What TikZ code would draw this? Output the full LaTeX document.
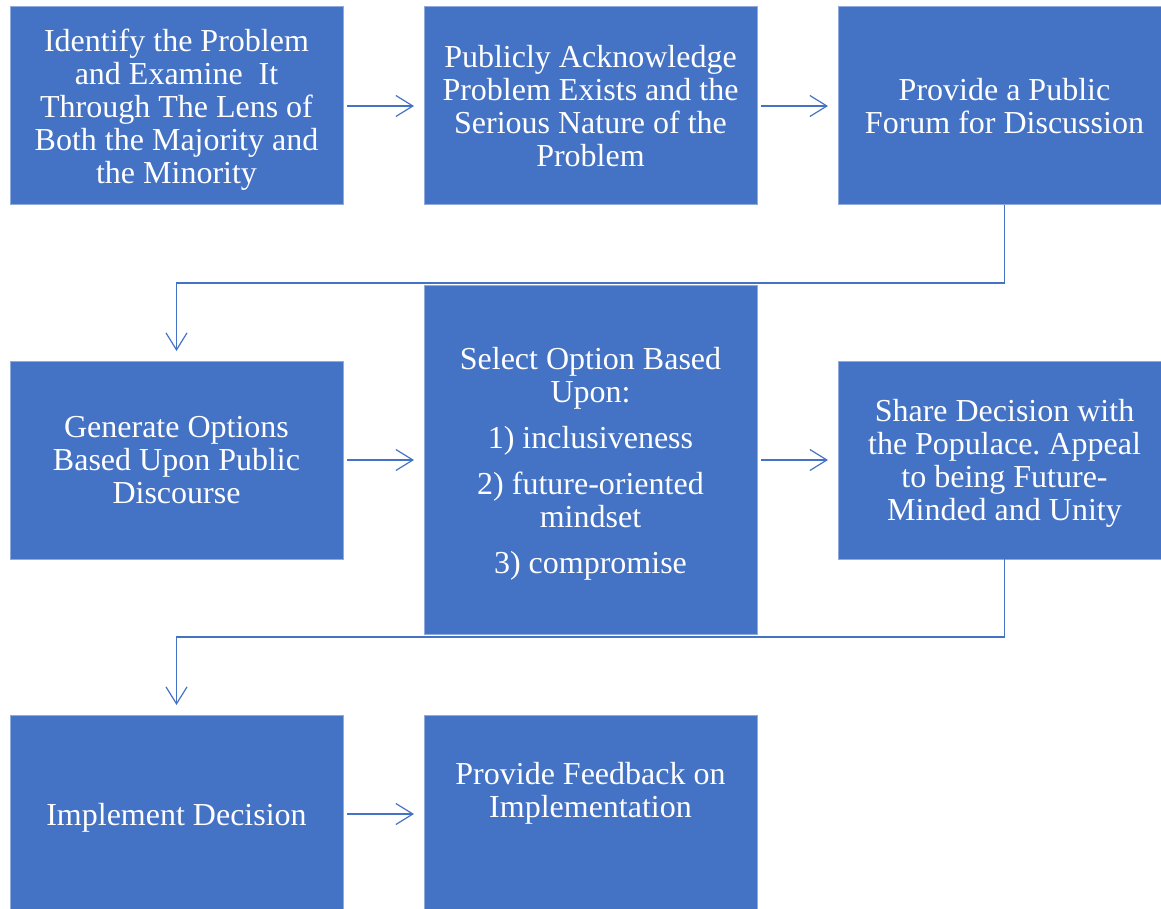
\documentclass[tikz,border=0pt]{standalone}
\usepackage{fontspec}
\setmainfont{Liberation Serif}
\usetikzlibrary{positioning,calc,arrows.meta}
\frenchspacing

\definecolor{boxblue}{RGB}{68,114,196}
\definecolor{boxedge}{RGB}{143,170,220}

\begin{document}
\begin{tikzpicture}[step box/.style={rectangle,draw=boxedge,line width=1pt,fill=boxblue,text=white,
        minimum width=333pt,minimum height=198pt,outer sep=0pt,inner sep=4pt,align=center,
        font=\fontsize{32}{33}\selectfont,text depth=0pt},
        flow/.style={draw=boxblue,line width=1.2pt,-{Straight Barb[length=17pt,width=21pt]},shorten >=10pt}]
        \useasboundingbox (0,0) rectangle (1161pt,-909pt);
        \node[step box] (p1) at (176.5pt,-106pt) {Identify the Problem\\and Examine\ \ It\\Through The Lens of\\Both the Majority and\\the Minority};
        \node[step box] (p2) [right=81pt of p1] {Publicly Acknowledge\\Problem Exists and the\\Serious Nature of the\\Problem};
        \node[step box] (p3) [right=81pt of p2] {Provide a Public\\Forum for Discussion};
        \node[step box] (p4) [below=156pt of p1] {Generate Options\\Based Upon Public\\Discourse};
        \node[step box,minimum height=349pt] (p5) [right=81pt of p4] {Select Option Based\\Upon:\\[13pt]1) inclusiveness\\[13pt]2) future-oriented\\mindset\\[13pt]3) compromise};
        \node[step box] (p6) [right=81pt of p5] {Share Decision with\\the Populace. Appeal\\to being Future-\\Minded and Unity};
        \node[step box] (p7) [below=156pt of p4] {Implement Decision};
        \node[step box,text depth=48pt] (p8) [right=81pt of p7] {Provide Feedback on\\Implementation};

        \path[every edge/.style={flow, shorten <=4pt}]
        (p1.east) edge (p2.west)
        (p2.east) edge (p3.west)
        (p4.east) edge (p5.west)
        (p5.east) edge (p6.west)
        (p7.east) edge (p8.west)
        ;
        \draw[flow] (p3.south) |- ($(p3.south)!.5!(p4.north)$) -| (p4.north);
        \draw[flow] (p6.south) |- ($(p6.south)!.5!(p7.north)$) -| (p7.north);
    \end{tikzpicture}
\end{document}
